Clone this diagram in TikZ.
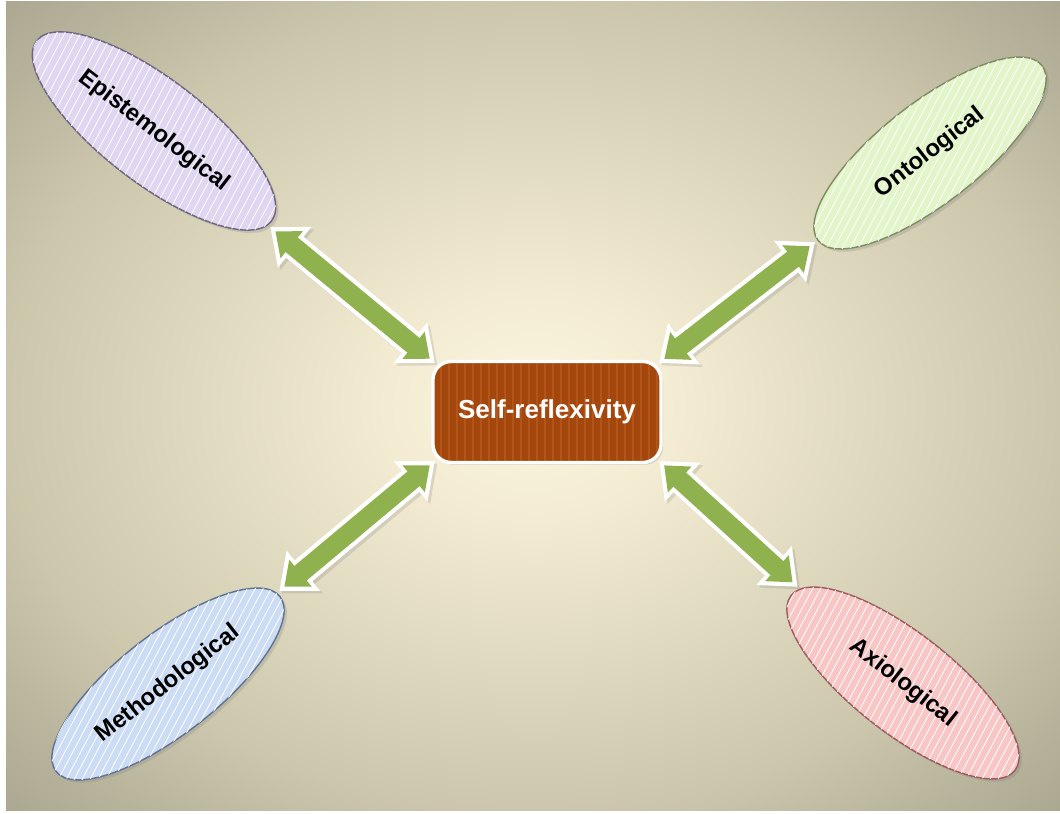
\documentclass[tikz,border=0pt]{standalone}
\usepackage{fontspec}
\setmainfont{Liberation Sans}
\usetikzlibrary{shapes.geometric, arrows.meta, shadows, patterns.meta}

% palette
\definecolor{bgin}{HTML}{FCF6DF}
\definecolor{bgmid}{HTML}{F3ECD3}
\definecolor{bgedge}{HTML}{CBC6AC}
\definecolor{bgcorner}{HTML}{A9A58F}
\definecolor{boxfill}{HTML}{A4470D}
\definecolor{boxstripe}{HTML}{B3551A}
\definecolor{arrowgreen}{HTML}{8FB24F}
\definecolor{epifill}{HTML}{E0D6F2}
\definecolor{epiline}{HTML}{6E6480}
\definecolor{ontofill}{HTML}{E2F5C8}
\definecolor{ontoline}{HTML}{7C8C60}
\definecolor{methfill}{HTML}{CDDCF5}
\definecolor{methline}{HTML}{5F7293}
\definecolor{axiofill}{HTML}{F9C6C6}
\definecolor{axioline}{HTML}{9E5A5A}

% soft elliptical backdrop: the middle 50bp square is stretched over the page
\pgfdeclareradialshading{slidebg}{\pgfpoint{0bp}{0bp}}{%
  color(0bp)=(bgin); color(7bp)=(bgmid); color(25bp)=(bgedge); color(36bp)=(bgcorner); color(50bp)=(bgcorner)}

\tikzset{
  oval/.style={ellipse, line width=1pt, inner sep=0pt,
    font=\fontsize{17}{20}\selectfont\bfseries, text=black,
    drop shadow={opacity=0.25, shadow xshift=2pt, shadow yshift=-2pt},
    postaction={fill opacity=0.35, pattern={Lines[angle=62, distance=5pt, line width=0.6pt]}, pattern color=white}},
  bigoval/.style={oval, minimum width=7.4cm, minimum height=2.6cm},
  smalloval/.style={oval, minimum width=7.1cm, minimum height=2.5cm},
  hub/.style={rectangle, rounded corners=13pt, fill=boxfill,
    minimum width=5.7cm, minimum height=2.525cm,
    font=\fontsize{18.5}{22}\selectfont\bfseries, text=white,
    drop shadow={opacity=0.3, shadow xshift=1.5pt, shadow yshift=-1.5pt},
    postaction={pattern={Lines[angle=90, distance=5.7pt, line width=1.5pt]}, pattern color=boxstripe},
    postaction={draw=white, line width=2.4pt}},
  linkshadow/.style={draw=black!60, opacity=0.18, line width=19.5pt,
    {Triangle[width=36pt,length=22.5pt]}-{Triangle[width=36pt,length=22.5pt]},
    shorten <=-2pt, shorten >=2pt, transform canvas={shift={(1.8pt,-1.8pt)}}},
  linkedge/.style={draw=white, line width=19.5pt,
    {Triangle[width=36pt,length=22.5pt]}-{Triangle[width=36pt,length=22.5pt]},
    shorten <=-2pt, shorten >=2pt},
  linkcore/.style={draw=arrowgreen, line width=13.5pt,
    {Triangle[width=24pt,length=15pt]}-{Triangle[width=24pt,length=15pt]},
    shorten <=2.7pt, shorten >=6.7pt}
}

\begin{document}
\begin{tikzpicture}[x=0.025cm, y=-0.025cm]
  \useasboundingbox (0,0) rectangle (1060,814);
  \fill[white] (0,0) rectangle (1060,814);
  \shade[shading=slidebg] (6,2) rectangle (1060,810);

  % central concept
  \node[hub] (self) at (547,412) {Self-reflexivity};

  % four dimensions
  \node[bigoval, fill=epifill, draw=epiline, rotate=-37.5] (epi) at (154,131) {Epistemological};
  \node[smalloval, fill=ontofill, draw=ontoline, rotate=38] (onto) at (930,153) {Ontological};
  \node[smalloval, fill=methfill, draw=methline, rotate=38] (meth) at (168,684) {Methodological};
  \node[smalloval, fill=axiofill, draw=axioline, rotate=-38] (axio) at (903,683) {Axiological};

  % two-way links
  \foreach \corner/\target in {north west/epi, north east/onto, south west/meth, south east/axio}{
    \draw[linkshadow] (self.\corner) -- (\target);
    \draw[linkedge] (self.\corner) -- (\target);
    \draw[linkcore] (self.\corner) -- (\target);
  }
\end{tikzpicture}
\end{document}
